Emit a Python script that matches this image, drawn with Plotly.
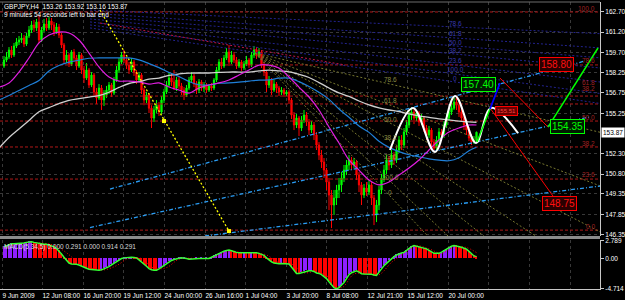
import plotly.graph_objects as go

# ---------------- text ----------------
symbol_line = "GBPJPY,H4  153.26 153.92 153.16 153.87"
timer_line = "9 minutes 54 seconds left to bar end"
macd_label = "MACD(5,34,5) 0.000 0.291 0.000 0.914 0.291"

# ---------------- candles (GBPJPY H4) ----------------
first_open = 158.72
close = [159.16, 159.38, 159.89, 159.53, 160.19, 160.48, 160.63, 160.77, 160.33, 160.92,
         161.36, 161.73, 161.51, 161.95, 160.63, 161.36, 161.80, 161.51, 162.02, 161.73,
         161.21, 161.58, 160.99, 160.26, 159.16, 159.53, 158.87, 159.75, 159.31, 158.72,
         159.53, 158.43, 157.84, 158.43, 157.33, 158.06, 156.82, 156.38, 157.11, 156.23,
         156.60, 156.96, 157.33, 156.74, 157.70, 158.43, 159.01, 159.53, 159.16, 158.79,
         158.43, 159.01, 158.28, 157.70, 158.06, 156.96, 156.23, 156.60, 155.63, 154.91,
         155.50, 155.85, 155.35, 156.23, 156.82, 157.33, 157.84, 157.55, 157.11, 157.70,
         157.26, 156.96, 156.60, 157.11, 157.70, 157.99, 157.40, 156.96, 157.55, 157.11,
         157.33, 156.96, 157.26, 157.11, 157.70, 158.43, 159.01, 158.72, 159.31, 159.75,
         159.01, 159.53, 159.16, 158.72, 159.01, 158.58, 158.87, 159.16, 158.79, 159.53,
         159.89, 159.46, 159.75, 158.79, 158.28, 157.33, 157.70, 156.96, 157.40, 157.11,
         156.82, 156.96, 156.67, 156.82, 156.23, 155.13, 154.40, 154.91, 154.18, 154.77,
         155.13, 154.62, 154.03, 154.40, 153.67, 152.93, 152.20, 151.69, 151.10, 150.22,
         149.27, 148.54, 149.05, 149.64, 150.01, 150.52, 151.10, 151.47, 151.84, 151.47,
         151.69, 150.74, 150.01, 149.27, 149.78, 149.49, 150.01, 149.05, 147.81, 148.54,
         149.64, 150.52, 151.10, 151.84, 151.47, 152.20, 151.84, 152.57, 153.30, 152.93,
         153.89, 154.40, 155.13, 155.35, 154.91, 155.28, 154.62, 154.91, 154.18, 153.67,
         154.03, 153.15, 152.71, 153.30, 153.89, 153.67, 154.40, 154.91, 155.35, 155.63,
         156.08, 155.85, 155.35, 154.91, 154.40, 154.03, 153.45, 153.15, 153.26, 153.87]
high = [159.46, 159.75, 160.11, 160.19, 160.41, 160.77, 160.92, 161.14, 160.99, 161.14,
        161.65, 162.02, 162.09, 162.17, 162.46, 161.58, 162.17, 162.24, 162.31, 162.24,
        161.95, 161.87, 161.80, 161.14, 160.41, 159.89, 159.67, 159.89, 159.97, 159.53,
        159.75, 159.67, 158.72, 158.94, 158.58, 158.28, 158.21, 157.11, 157.40, 157.33,
        156.96, 157.26, 157.55, 157.48, 157.92, 158.72, 159.31, 159.75, 159.89, 159.38,
        159.01, 159.31, 159.16, 158.43, 158.28, 158.21, 157.11, 156.82, 156.74, 155.85,
        155.79, 156.23, 156.08, 156.52, 157.04, 157.62, 158.21, 158.14, 158.43, 157.92,
        157.99, 157.48, 157.18, 157.33, 157.92, 158.28, 158.14, 157.62, 157.77, 157.70,
        157.55, 157.48, 157.40, 157.48, 157.84, 158.65, 159.23, 159.31, 159.53, 160.04,
        160.26, 159.82, 159.75, 159.38, 159.23, 159.16, 159.09, 159.46, 159.31, 159.75,
        160.19, 160.11, 160.04, 159.89, 159.01, 158.43, 157.99, 157.84, 157.70, 157.55,
        157.26, 157.18, 157.11, 156.96, 156.96, 156.38, 155.35, 155.21, 155.06, 155.06,
        155.50, 155.35, 154.84, 154.69, 154.62, 153.89, 153.15, 152.57, 151.98, 151.25,
        150.52, 149.64, 149.64, 150.01, 150.52, 150.96, 151.47, 151.84, 152.20, 152.06,
        151.98, 151.84, 150.96, 150.22, 150.08, 150.22, 150.37, 150.22, 149.27, 148.91,
        149.93, 150.81, 151.47, 152.20, 152.13, 152.57, 152.42, 152.86, 153.59, 153.67,
        154.18, 154.77, 155.50, 155.72, 155.57, 155.50, 155.43, 155.21, 155.06, 154.40,
        154.33, 154.18, 153.37, 153.59, 154.18, 154.11, 154.69, 155.21, 155.65, 156.01,
        156.45, 156.38, 156.08, 155.57, 155.13, 154.62, 154.25, 153.74, 153.59, 153.92]
low = [158.58, 159.01, 159.23, 159.31, 159.38, 160.04, 160.26, 160.41, 160.11, 160.19,
       160.77, 161.14, 161.21, 161.29, 160.41, 160.48, 161.21, 161.29, 161.36, 161.36,
       160.92, 161.07, 160.77, 160.04, 158.87, 158.94, 158.65, 158.72, 159.01, 158.43,
       158.58, 158.14, 157.48, 157.70, 157.11, 157.18, 156.52, 155.94, 156.23, 155.50,
       155.79, 156.38, 156.67, 156.45, 156.60, 157.55, 158.21, 158.87, 158.94, 158.50,
       158.14, 158.28, 157.99, 157.40, 157.55, 156.67, 155.85, 156.01, 155.28, 154.18,
       154.62, 155.28, 155.06, 155.21, 156.01, 156.67, 157.18, 157.26, 156.96, 156.89,
       157.04, 156.60, 156.23, 156.45, 156.96, 157.48, 157.18, 156.67, 156.74, 156.89,
       156.82, 156.74, 156.82, 156.89, 156.96, 157.55, 158.28, 158.50, 158.58, 159.16,
       158.72, 158.87, 158.94, 158.50, 158.58, 158.36, 158.43, 158.72, 158.58, 158.65,
       159.31, 159.23, 159.31, 158.58, 157.99, 156.82, 157.11, 156.60, 156.82, 156.74,
       156.52, 156.60, 156.45, 156.52, 155.94, 154.84, 154.03, 154.18, 153.59, 153.96,
       154.55, 154.33, 153.67, 153.81, 153.30, 152.57, 151.84, 151.25, 150.52, 149.64,
       148.17, 146.85, 147.81, 148.54, 149.05, 149.49, 150.22, 150.74, 151.10, 151.10,
       151.25, 150.37, 149.49, 148.54, 149.05, 149.20, 149.27, 148.54, 147.07, 147.29,
       148.17, 149.34, 150.22, 150.81, 151.10, 151.25, 151.47, 151.62, 152.35, 152.57,
       152.71, 153.67, 154.18, 154.77, 154.47, 154.69, 154.33, 154.40, 153.89, 153.30,
       153.45, 152.79, 152.42, 152.49, 153.08, 153.37, 153.45, 154.18, 154.69, 155.13,
       155.50, 155.50, 154.99, 154.62, 154.03, 153.67, 153.23, 152.93, 153.01, 153.16]

# ---------------- moving averages (sampled every 4 bars) ----------------
ma_idx = [-2, 2, 6, 10, 14, 18, 22, 26, 30, 34, 38, 42, 46, 50, 54, 58, 62, 66, 70, 74,
          78, 82, 86, 90, 94, 98, 102, 106, 110, 114, 118, 122, 126, 130, 134, 138, 142,
          146, 150, 154, 158, 162, 166, 170, 174, 178, 182, 186, 189]
ma_fast = [157.18, 157.48, 158.28, 159.31, 160.41, 160.99, 161.21, 161.14, 160.63, 159.67,
           158.65, 157.92, 157.62, 157.62, 157.55, 157.40, 157.48, 157.18, 156.96, 156.74,
           157.11, 157.33, 157.48, 157.70, 158.06, 158.43, 158.79, 158.79, 158.58, 157.92,
           157.18, 156.45, 155.50, 154.25, 153.08, 151.84, 151.10, 150.37, 150.01, 150.22,
           150.74, 151.25, 151.84, 152.57, 153.30, 153.89, 154.18, 154.40, 154.40]
ma_mid = [156.23, 156.56, 156.93, 157.29, 157.66, 158.36, 158.76, 159.00, 159.15, 159.29,
          159.31, 159.31, 159.31, 159.31, 159.17, 158.90, 158.60, 158.25, 157.95, 157.59,
          157.35, 157.33, 157.46, 157.48, 157.54, 157.62, 157.69, 157.70, 157.83, 157.84,
          157.58, 157.22, 156.79, 156.28, 155.57, 154.97, 154.32, 153.86, 153.21, 152.76,
          152.45, 152.22, 152.07, 151.92, 151.82, 151.78, 152.00, 152.52, 152.77]
ma_slow = [152.70, 153.48, 154.11, 154.73, 155.37, 155.67, 155.97, 156.21, 156.33, 156.44,
           156.56, 156.80, 157.15, 157.44, 157.57, 157.76, 157.84, 158.04, 158.14, 158.20,
           158.21, 158.21, 158.25, 158.28, 158.28, 158.28, 158.36, 158.42, 158.36, 158.29,
           158.11, 157.88, 157.51, 157.11, 156.75, 156.49, 156.16, 155.87, 155.65, 155.50,
           155.39, 155.21, 155.07, 154.96, 154.85, 154.77, 154.69, 154.63, 154.60]

# ---------------- MACD(5,34,5) ----------------
macd = [1.8, 2.0, 2.2, 2.3, 2.3, 2.3, 2.3, 2.35, 2.4, 2.5,
        2.6, 2.6, 2.5, 2.4, 2.3, 2.3, 2.2, 2.2, 2.1, 2.0,
        1.8, 1.55, 1.2, 0.7, 0.2, -0.3, -0.7, -0.85, -0.85, -0.9,
        -1.0, -1.2, -1.35, -1.5, -1.65, -1.7, -1.75, -1.8, -1.8, -1.75,
        -1.6, -1.45, -1.25, -1.0, -0.75, -0.45, -0.2, 0.0, 0.1, 0.15,
        0.2, 0.2, 0.15, 0.1, -0.2, -0.5, -0.85, -1.2, -1.55, -1.75,
        -1.8, -1.8, -1.6, -1.35, -1.1, -0.8, -0.5, -0.3, -0.15, 0.0,
        0.05, 0.1, 0.1, 0.0, -0.1, -0.05, 0.0, 0.02, 0.0, 0.01,
        0.0, 0.02, 0.0, 0.2, 0.4, 0.6, 0.8, 1.0, 1.15, 1.25,
        1.3, 1.2, 1.05, 0.95, 0.9, 0.9, 0.92, 0.9, 0.9, 0.92,
        0.9, 0.9, 0.8, 0.65, 0.5, 0.1, -0.25, -0.5, -0.7, -0.8,
        -0.8, -0.78, -0.8, -0.8, -0.85, -1.3, -1.8, -2.3, -2.3, -2.2,
        -2.05, -1.9, -1.9, -1.9, -2.0, -2.25, -2.3, -2.5, -2.75, -3.1,
        -3.6, -4.1, -4.5, -4.7, -4.5, -4.1, -3.7, -3.1, -2.5, -2.2,
        -2.0, -1.9, -2.1, -2.35, -2.4, -2.4, -2.4, -2.45, -2.55, -2.6,
        -2.1, -1.5, -1.1, -0.75, -0.35, 0.0, 0.3, 0.55, 0.75, 0.85,
        0.95, 1.25, 1.55, 1.85, 2.0, 1.9, 1.75, 1.65, 1.6, 1.5,
        1.25, 1.0, 0.8, 0.8, 0.8, 1.0, 1.25, 1.45, 1.7, 1.9,
        2.0, 1.95, 1.85, 1.75, 1.6, 1.45, 1.1, 0.7, 0.4, 0.291]
signal_idx = [0, 5, 10, 15, 20, 25, 30, 35, 40, 45, 50, 55, 60, 65, 70, 75, 80, 85, 90,
              95, 100, 105, 110, 115, 120, 125, 130, 135, 140, 145, 150, 155, 160, 165,
              170, 175, 180, 185, 189]
signal = [1.6, 2.2, 2.45, 2.4, 2.05, 0.9, -0.7, -1.5, -1.75, -1.1, 0.05, 0.0, -1.5, -1.4,
          -0.1, 0.05, 0.0, 0.3, 1.15, 0.95, 0.9, 0.55, -0.65, -0.85, -2.2, -2.0, -2.9,
          -4.5, -2.4, -2.35, -2.5, -0.6, 0.8, 1.95, 1.5, 0.8, 1.8, 1.7, 0.91]

# ---------------- axes ----------------
x_min, x_max = -1.6, 238.4
y_min, y_max = 146.27, 163.41
date_ticks = [-0.8, 15.2, 31.6, 47.6, 64, 80.4, 96.4, 112.8, 128.8, 145.2, 161.2, 177.6,
              193.6, 210.0, 226.4]
date_labels = ["9 Jun 2009", "12 Jun 08:00", "16 Jun 20:00", "19 Jun 12:00", "24 Jun 00:00",
               "26 Jun 16:00", "1 Jul 04:00", "3 Jul 20:00", "8 Jul 08:00", "12 Jul 21:00",
               "15 Jul 12:00", "20 Jul 00:00", "", "", ""]
price_ticks = [162.70, 161.20, 159.70, 158.25, 156.75, 155.25, 152.30, 150.80, 149.35,
               147.85, 146.35]
current_price = 153.87
macd_ticks = [2.789, 0.0, -4.714]
macd_tick_text = ["2.789", "0.00", "-4.714"]

# ---------------- drawing objects ----------------
fib_levels = [162.68, 158.80, 156.52, 155.94, 154.69, 152.79, 150.44, 146.70]
fib_text = ["100.0", "78.6", "61.8", "38.2", "50.0", "38.2", "23.6", "0.0"]
fib_text_price = [162.90, 159.09, 157.48, 157.04, 154.98, 153.08, 150.74, 147.00]
fib_text_x = 237.2

navy_x0, navy_x1 = 34.4, 238.4
navy_p0 = [162.82, 162.60, 162.39, 162.17, 161.95, 161.73, 161.51]
navy_p1 = [161.09, 160.05, 159.32, 158.58, 157.55, 156.71, 155.98]
navy_text = ["78.6", "61.8", "50.0", "38.2", "23.6", "100.0", "0"]
navy_text_x = 180.4
navy_text_p = [161.87, 161.07, 160.48, 159.89, 159.09, 158.43, 157.84]

crimson_line = ([38.4, 136.4], [161.87, 158.80])

olive_origin = (100.4, 159.67)
olive_end_x = [238.4, 238.4, 238.4, 212.7, 191.9, 177.6, 169.5]
olive_end_p = [153.87, 149.94, 146.57, 146.27, 146.27, 146.27, 146.27]
olive_text = ["78.6", "61.8", "50.0", "38.2", "23.6", "100.0", "0"]
olive_text_x = 154.4
olive_text_p = [157.70, 156.16, 154.84, 153.52, 152.06, 150.59, 149.49]

yellow_line = ([38.4, 90.0], [162.82, 146.63])
yellow_marks = ([64.0, 90.0], [154.69, 146.63])

cyan_x0 = [42.4, 34.4, 80.4]
cyan_p0 = [149.71, 146.89, 146.27]
cyan_x1 = [232.4, 234.4, 238.4]
cyan_p1 = [159.09, 155.00, 149.93]

red_x0, red_p0 = [198.4, 194.4], [157.84, 155.65]
red_x1, red_p1 = [217.6, 221.6], [154.25, 148.68]
green_x0, green_p0 = [217.6, 189.2], [154.25, 153.15]
green_x1, green_p1 = [237.6, 194.4], [160.04, 155.57]
blue_x0, blue_p0, blue_x1, blue_p1 = [194.4], [155.57], [198.4], [157.48]

hump_x = [154.4, 163.6, 172.4, 180.4, 188.8, 194.8, 205.6]
hump_p = [152.57, 155.65, 152.42, 156.52, 153.08, 155.65, 153.81]

box_text = ["157.40", "158.80", "155.51", "154.35", "148.75"]
box_x = [189.6, 220.8, 200.8, 225.2, 222.0]
box_p = [157.40, 158.80, 155.46, 154.29, 148.65]
box_kind = ["green", "red", "redsmall", "green", "red"]

# ---------------- build ----------------
bars = list(range(len(close)))
opens = [first_open] + close[:-1]

def segs(x0, y0, x1, y1, color, width, dash, opacity=1.0):
    X, Y = [], []
    for a, b, c, d in zip(x0, y0, x1, y1):
        X += [a, c, None]
        Y += [b, d, None]
    return go.Scatter(x=X, y=Y, mode="lines", hoverinfo="skip", showlegend=False,
                      opacity=opacity, line=dict(color=color, width=width, dash=dash))

fig = go.Figure()

# background drawing objects
fig.add_trace(segs([x_min] * len(fib_levels), fib_levels, [x_max] * len(fib_levels), fib_levels,
                   "#b01818", 1, "3px,2px"))
fig.add_trace(segs([navy_x0] * 7, navy_p0, [navy_x1] * 7, navy_p1, "#23238f", 1, "2px,2px"))
fig.add_trace(segs([crimson_line[0][0]], [crimson_line[1][0]], [crimson_line[0][1]],
                   [crimson_line[1][1]], "#c0144a", 1, "2px,2px"))
fig.add_trace(segs([olive_origin[0]] * 7, [olive_origin[1]] * 7, olive_end_x, olive_end_p,
                   "#76762e", 1, "2px,2px"))
fig.add_trace(segs(cyan_x0, cyan_p0, cyan_x1, cyan_p1, "#2a9df4", 1.3, "4px,2px,1px,2px"))
fig.add_trace(go.Scatter(x=yellow_line[0], y=yellow_line[1], mode="lines", hoverinfo="skip",
                         showlegend=False, line=dict(color="#ffff00", width=1.3, dash="2px,2px")))
fig.add_trace(go.Scatter(x=yellow_marks[0], y=yellow_marks[1], mode="markers", hoverinfo="skip",
                         showlegend=False, marker=dict(symbol="square", size=4, color="#ffff00")))

# candles
fig.add_trace(go.Candlestick(
    x=bars, open=opens, high=high, low=low, close=close, hoverinfo="skip", showlegend=False,
    whiskerwidth=0,
    increasing=dict(line=dict(color="#00ff00", width=1), fillcolor="#00ff00"),
    decreasing=dict(line=dict(color="#ff0000", width=1), fillcolor="#ff0000")))

# moving averages
fig.add_trace(go.Scatter(x=ma_idx, y=ma_slow, mode="lines", line=dict(color="#cfcfcf", width=1.3, shape="spline"),
                         hoverinfo="skip", showlegend=False))
fig.add_trace(go.Scatter(x=ma_idx, y=ma_mid, mode="lines", line=dict(color="#1f7fd8", width=1.2, shape="spline"),
                         hoverinfo="skip", showlegend=False))
fig.add_trace(go.Scatter(x=ma_idx, y=ma_fast, mode="lines", line=dict(color="#e01ee0", width=1.2, shape="spline"),
                         hoverinfo="skip", showlegend=False))

# projections
fig.add_trace(go.Scatter(x=hump_x, y=hump_p, mode="lines", line=dict(color="white", width=2, shape="spline", smoothing=1.0),
                         hoverinfo="skip", showlegend=False))
fig.add_trace(segs(red_x0, red_p0, red_x1, red_p1, "#ff0000", 1, "solid"))
fig.add_trace(segs(green_x0, green_p0, green_x1, green_p1, "#00ff00", 1.5, "solid"))
fig.add_trace(segs(blue_x0, blue_p0, blue_x1, blue_p1, "#0000ff", 1.8, "solid"))

# MACD
hist_colors = []
prev = "#8f1fff"
for i, v in enumerate(macd):
    if i > 0 and v > macd[i - 1]:
        prev = "#8f1fff"
    elif i > 0 and v < macd[i - 1]:
        prev = "#ff0000"
    hist_colors.append(prev)
fig.add_trace(go.Bar(x=bars, y=macd, marker=dict(color=hist_colors, line=dict(width=0)), width=0.6,
                     xaxis="x2", yaxis="y2", hoverinfo="skip", showlegend=False))
fig.add_trace(go.Scatter(x=signal_idx, y=signal, mode="lines", xaxis="x2", yaxis="y2",
                         line=dict(color="#ff0000", width=1, dash="1px,2px", shape="spline"),
                         hoverinfo="skip", showlegend=False))
fig.add_trace(go.Scatter(x=bars, y=macd, mode="lines", xaxis="x2", yaxis="y2",
                         line=dict(color="#33ff33", width=1.5), hoverinfo="skip", showlegend=False))

# ---------------- annotations ----------------
ann = []
small = dict(family="Liberation Sans, Arial", size=6.5)
for t, p in zip(fib_text, fib_text_price):
    ann.append(dict(x=fib_text_x, y=p, xref="x", yref="y", text=t, showarrow=False, xanchor="right",
                    font=dict(small, color="#a02020")))
for t, p in zip(navy_text, navy_text_p):
    ann.append(dict(x=navy_text_x, y=p, xref="x", yref="y", text=t, showarrow=False,
                    font=dict(small, color="#3838b0")))
for t, p in zip(olive_text, olive_text_p):
    ann.append(dict(x=olive_text_x, y=p, xref="x", yref="y", text=t, showarrow=False,
                    font=dict(small, color="#8a8a40")))
styles = {
    "green": dict(font=dict(family="Liberation Sans, Arial", size=10, color="#00ff00"),
                  bgcolor="#001a00", bordercolor="#00ff00"),
    "red": dict(font=dict(family="Liberation Sans, Arial", size=10, color="#ff1010"),
                bgcolor="#2a0000", bordercolor="#ff0000"),
    "redsmall": dict(font=dict(family="Liberation Sans, Arial", size=6, color="#ff4040"),
                     bgcolor="#6a0000", bordercolor="#ff0000"),
}
for t, x, p, k in zip(box_text, box_x, box_p, box_kind):
    ann.append(dict(x=x, y=p, xref="x", yref="y", text=t, showarrow=False, borderwidth=1,
                    borderpad=1, **styles[k]))
ann.append(dict(x=1.0, y=current_price, xref="paper", yref="y", text=f"{current_price:.2f}",
                showarrow=False, xanchor="left", xshift=1, bgcolor="white", borderpad=1,
                font=dict(small, color="black")))
ann.append(dict(x=0.004, y=1.0, xref="paper", yref="paper", text=symbol_line, showarrow=False,
                xanchor="left", yanchor="top", yshift=1, font=dict(small, color="white")))
ann.append(dict(x=0.004, y=1.0, xref="paper", yref="paper", text=timer_line, showarrow=False,
                xanchor="left", yanchor="top", yshift=-7, font=dict(small, color="white")))
ann.append(dict(x=0.004, y=0.169, xref="paper", yref="paper", text=macd_label, showarrow=False,
                xanchor="left", yanchor="top", yshift=-1, font=dict(small, color="#d8d8d8")))

grid = "#383838"
fig.update_layout(
    width=625, height=300, margin=dict(l=0, r=25, t=2, b=11, autoexpand=False),
    paper_bgcolor="black", plot_bgcolor="black",
    font=dict(family="Liberation Sans, Arial", size=6.5, color="white"),
    bargap=0, annotations=ann,
    xaxis=dict(domain=[0, 1], range=[x_min, x_max], anchor="y", showticklabels=False,
               tickvals=date_ticks, showgrid=True, gridcolor=grid, griddash="dot", gridwidth=1,
               zeroline=False, ticks="", showline=False, rangeslider=dict(visible=False),
               automargin=False),
    xaxis2=dict(domain=[0, 1], range=[x_min, x_max], anchor="y2", matches="x",
                tickvals=date_ticks, ticktext=date_labels, ticklabelposition="outside right",
                tickangle=0, ticks="", showgrid=True, gridcolor=grid, griddash="dot", gridwidth=1,
                zeroline=False, showline=True, linecolor="#c8c8c8", linewidth=1,
                automargin=False, ticklabelstandoff=0,
                tickfont=dict(small, color="white")),
    yaxis=dict(domain=[0.1847, 1.0], range=[y_min, y_max], side="right", anchor="x",
               tickvals=price_ticks, ticktext=[f"{v:.2f}" for v in price_ticks],
               showgrid=True, gridcolor=grid, griddash="dot", zeroline=False,
               ticks="outside", ticklen=3, tickcolor="#c8c8c8", showline=True,
               linecolor="#c8c8c8", tickfont=dict(small, color="white"), automargin=False),
    yaxis2=dict(domain=[0.0, 0.169], range=[-4.714, 2.789], side="right", anchor="x2",
                tickvals=macd_ticks, ticktext=macd_tick_text, showgrid=False, zeroline=False,
                ticks="outside", ticklen=3, tickcolor="#c8c8c8", showline=True,
                linecolor="#c8c8c8", tickfont=dict(small, color="white"), automargin=False),
    shapes=[
        dict(type="line", xref="paper", yref="paper", x0=0, x1=1, y0=0.1794, y1=0.1794,
             line=dict(color="#8c8c8c", width=3)),
        dict(type="line", xref="paper", yref="paper", x0=0, x1=1, y0=1.0, y1=1.0,
             line=dict(color="#6c6c6c", width=1)),
    ],
)

fig.write_html("out.html")
